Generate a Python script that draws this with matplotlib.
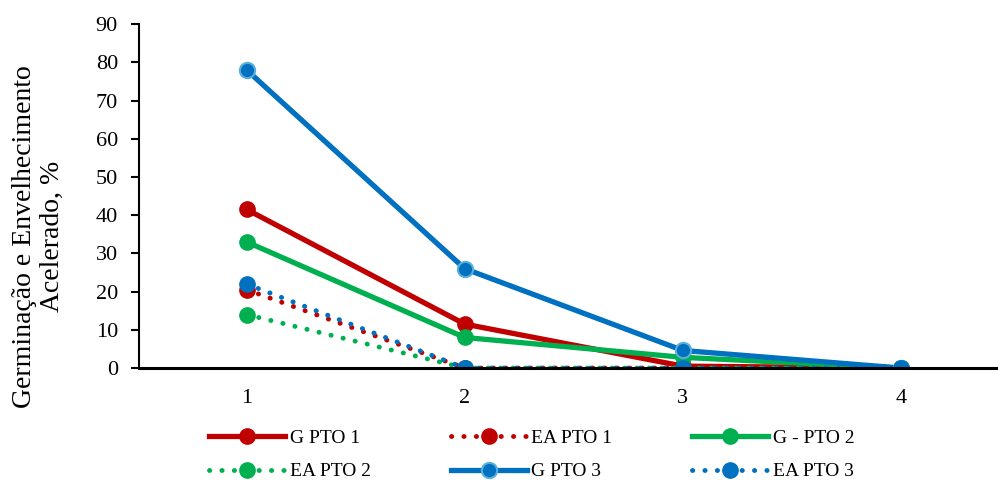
import matplotlib.pyplot as plt

plt.rcParams['font.family'] = ['Liberation Serif', 'DejaVu Serif']

x = [1, 2, 3, 4]
g_pto1 = [41.5, 11.5, 0.5, 0]
ea_pto1 = [20.5, 0, 0, 0]
g_pto2 = [33, 8, 2.8, 0]
ea_pto2 = [14, 0, 0, 0]
g_pto3 = [78, 26, 4.6, 0]
ea_pto3 = [22, 0, 0, 0]

RED = '#C00000'
GREEN = '#00B050'
BLUE = '#0070C0'

fig = plt.figure(figsize=(9.98, 4.83), dpi=100)
ax = fig.add_axes([0.139, 0.238, 0.861, 0.712])

solid = dict(lw=3.8, marker='o', ms=11)
dotted = dict(lw=3.5, ls=(0, (0.05, 2.5)), dash_capstyle='round', marker='o', ms=11)

ax.plot(x, g_pto1, color=RED, label='G PTO 1', **solid)
ax.plot(x, ea_pto1, color=RED, label='EA PTO 1', **dotted)
ax.plot(x, g_pto2, color=GREEN, label='G - PTO 2', **solid)
ax.plot(x, ea_pto2, color=GREEN, label='EA PTO 2', **dotted)
ax.plot(x, g_pto3, color=BLUE, mec='#5AAFD8', mew=1.5, label='G PTO 3', **solid)
ax.plot(x, ea_pto3, color=BLUE, label='EA PTO 3', **dotted)

ax.set_xlim(0.505, 4.445)
ax.set_ylim(0, 90)
ax.set_yticks(range(0, 91, 10))
ax.set_xticks(x)
ax.tick_params(axis='x', length=0, pad=15, labelsize=16)
ax.tick_params(axis='y', direction='out', length=6, width=1.5, labelsize=16, pad=9)
for side in ['top', 'right']:
    ax.spines[side].set_visible(False)
ax.spines['left'].set_linewidth(1.5)
ax.spines['bottom'].set_linewidth(2.2)

fig.text(0.039, 0.511, 'Germinação e Envelhecimento\nAcelerado, %', rotation=90,
         ha='center', va='center', multialignment='center', fontsize=20, linespacing=1.15)

# legend filled row by row: reorder for matplotlib's column-major layout
handles, labels = ax.get_legend_handles_labels()
order = [0, 3, 1, 4, 2, 5]
fig.legend([handles[i] for i in order], [labels[i] for i in order],
           loc='center', bbox_to_anchor=(0.533, 0.058), ncol=3, frameon=False,
           fontsize=14, handlelength=3.9, handletextpad=0.25, columnspacing=4.1,
           labelspacing=0.8, borderpad=0)

fig.savefig('out.png', dpi=100)
